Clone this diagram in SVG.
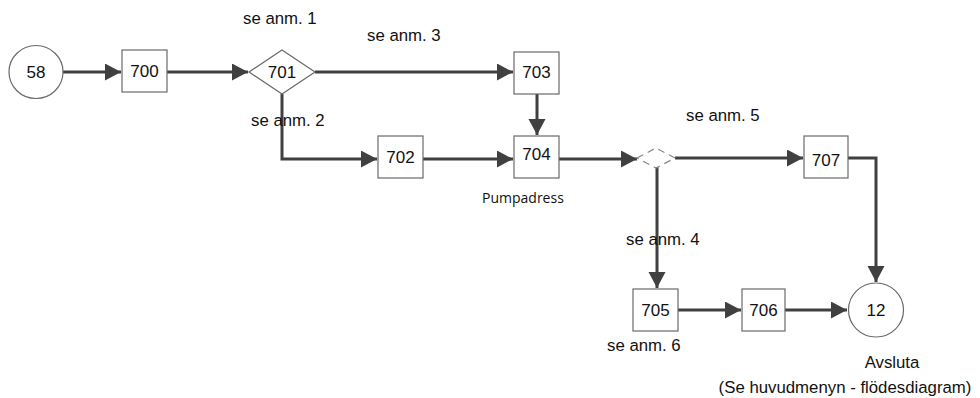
<svg xmlns="http://www.w3.org/2000/svg" width="980" height="398" viewBox="0 0 980 398">
<style>
.box{fill:#fff;stroke:#6a6a6a;stroke-width:1.2}
.num{font-family:"Liberation Sans",Arial,sans-serif;font-size:17px;fill:#111;text-anchor:middle}
.lbl{font-family:"Liberation Sans",Arial,sans-serif;font-size:16.8px;fill:#111}
.con{fill:none;stroke:#404040;stroke-width:3}
</style>
<defs>
<marker id="ah" markerUnits="userSpaceOnUse" markerWidth="17" markerHeight="18" refX="16" refY="8.5" orient="auto">
<path d="M0,0 L16,8.5 L0,17 z" fill="#404040"/>
</marker>
</defs>
<g id="connectors">
<path class="con" d="M63,72 H121" marker-end="url(#ah)"/>
<path class="con" d="M167,72 H248" marker-end="url(#ah)"/>
<path class="con" d="M315,72 H513" marker-end="url(#ah)"/>
<path class="con" d="M282,94 V159 H377" marker-end="url(#ah)"/>
<path class="con" d="M537,94 V135" marker-end="url(#ah)"/>
<path class="con" d="M423,159 H513" marker-end="url(#ah)"/>
<path class="con" d="M559,159 H637" marker-end="url(#ah)"/>
<path class="con" d="M675,158 H803" marker-end="url(#ah)"/>
<path class="con" d="M848,158 H876 V282" marker-end="url(#ah)"/>
<path class="con" d="M657,167 V288" marker-end="url(#ah)"/>
<path class="con" d="M678,310 H741" marker-end="url(#ah)"/>
<path class="con" d="M785,310 H847" marker-end="url(#ah)"/>
</g>
<g id="n58"><ellipse cx="36" cy="72" rx="27" ry="26.5" class="box"/><text class="num" x="36" y="78">58</text></g>
<g id="n700"><rect x="122" y="50" width="45" height="42" class="box"/><text class="num" x="144.5" y="77">700</text></g>
<g id="n701"><path d="M249,72 L282,50 L315,72 L282,94 z" class="box"/><text class="num" x="282" y="78">701</text></g>
<g id="n703"><rect x="514" y="52" width="45" height="42" class="box"/><text class="num" x="536.5" y="78">703</text></g>
<g id="n702"><rect x="378" y="136" width="45" height="42" class="box"/><text class="num" x="400.5" y="163">702</text></g>
<g id="n704"><rect x="514" y="136" width="45" height="42" class="box"/><text class="num" x="536.5" y="160">704</text></g>
<g id="d2"><path d="M637,158 L656,148 L675,158 L656,168 z" fill="none" stroke="#888" stroke-width="1.2" stroke-dasharray="7,5"/></g>
<g id="n707"><rect x="804" y="136" width="44" height="42" class="box"/><text class="num" x="826" y="166">707</text></g>
<g id="n705"><rect x="633" y="289" width="45" height="42" class="box"/><text class="num" x="655.5" y="316">705</text></g>
<g id="n706"><rect x="742" y="289" width="43" height="42" class="box"/><text class="num" x="763.5" y="316">706</text></g>
<g id="n12"><ellipse cx="876" cy="310" rx="27.5" ry="27" class="box"/><text class="num" x="876" y="316">12</text></g>
<g id="labels">
<text class="lbl" x="243" y="24">se anm. 1</text>
<text class="lbl" x="367" y="41">se anm. 3</text>
<text class="lbl" x="251" y="126">se anm. 2</text>
<text class="lbl" x="686" y="121">se anm. 5</text>
<text class="lbl" x="626" y="245">se anm. 4</text>
<text class="lbl" x="607" y="351">se anm. 6</text>
<text x="482" y="203" style="font-family:'Open Sans',sans-serif;font-size:14px;fill:#111">Pumpadress</text>
<text class="lbl" x="892" y="368" text-anchor="middle">Avsluta</text>
<text class="lbl" x="845" y="393" text-anchor="middle">(Se huvudmenyn - flödesdiagram)</text>
</g>
</svg>
